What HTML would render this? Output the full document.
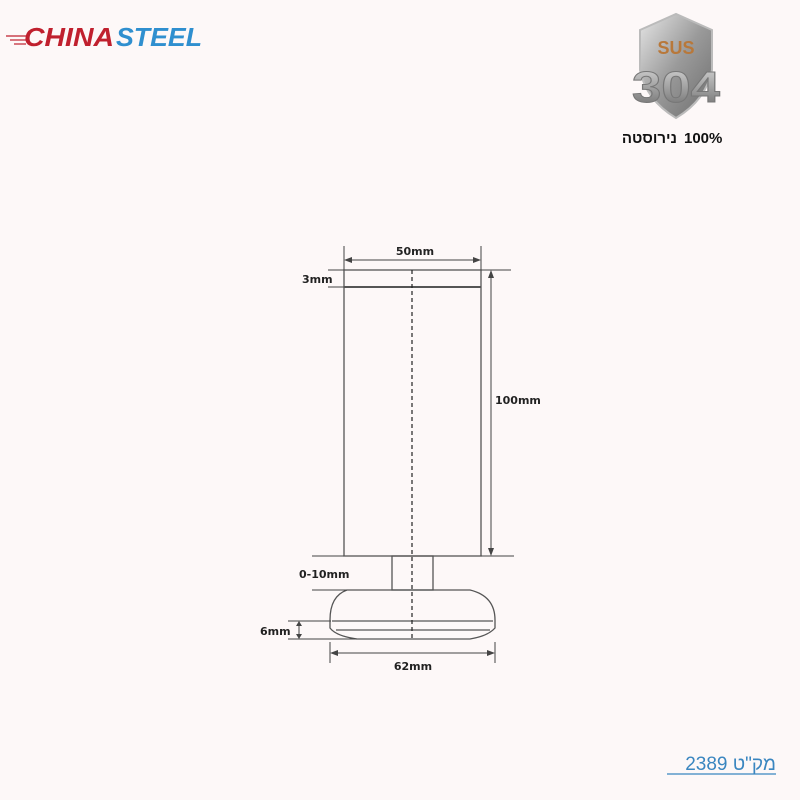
<!DOCTYPE html>
<html><head><meta charset="utf-8"><style>
html,body{margin:0;padding:0;background:#fdf8f8;}
svg{display:block}
</style></head><body>
<svg width="800" height="800" viewBox="0 0 800 800" xmlns="http://www.w3.org/2000/svg">
<defs>
<linearGradient id="sh" x1="0" y1="0" x2="1" y2="1"><stop offset="0" stop-color="#e6e6e6"/><stop offset="0.5" stop-color="#9a9a9a"/><stop offset="1" stop-color="#6d6d6d"/></linearGradient>
<linearGradient id="num" x1="0" y1="0" x2="0" y2="1"><stop offset="0" stop-color="#d8d8d8"/><stop offset="1" stop-color="#6a6a6a"/></linearGradient>
</defs>
<rect width="800" height="800" fill="#fdf8f8"/>
<g stroke="#c0202e" stroke-width="1.2">
<line x1="6" y1="36" x2="26" y2="36"/><line x1="10" y1="40" x2="26" y2="40"/><line x1="14" y1="44" x2="26" y2="44"/>
</g>
<text x="24" y="46" font-family="Liberation Sans, sans-serif" font-weight="bold" font-style="italic" font-size="26" fill="#c0202e" textLength="90" lengthAdjust="spacingAndGlyphs">CHINA</text>
<text x="116" y="46" font-family="Liberation Sans, sans-serif" font-weight="bold" font-style="italic" font-size="26" fill="#2f8fcf" textLength="86" lengthAdjust="spacingAndGlyphs">STEEL</text>
<path d="M640 30 L676 14 L712 30 L712 70 Q706 100 676 118 Q646 100 640 70 Z" fill="url(#sh)" stroke="#bbb" stroke-width="2"/>
<text x="676" y="54" text-anchor="middle" font-family="Liberation Sans, sans-serif" font-weight="bold" font-size="18" fill="#b8783a">SUS</text>
<text x="676" y="102" text-anchor="middle" font-family="Liberation Sans, sans-serif" font-weight="bold" font-size="44" fill="url(#num)" stroke="#777" stroke-width="1" textLength="88" lengthAdjust="spacingAndGlyphs">304</text>
<text x="677" y="143" text-anchor="end" font-family="Liberation Sans, DejaVu Sans, sans-serif" font-weight="bold" font-size="15" fill="#111">נירוסטה</text>
<text x="684" y="143" font-family="Liberation Sans, DejaVu Sans, sans-serif" font-weight="bold" font-size="15" fill="#111">100%</text>
<g stroke="#555" stroke-width="1.3" fill="none">
<rect x="344" y="270" width="137" height="286"/>
<line x1="344" y1="287" x2="481" y2="287" stroke-width="2"/>
<rect x="392" y="556" width="41" height="34"/>
<path d="M347 590 L470 590 Q495 596 495 620 L495 628 Q488 636 470 639 L357 639 Q336 636 330 628 L330 620 Q330 596 347 590 Z"/>
<line x1="332" y1="621" x2="493" y2="621"/>
<line x1="336" y1="630" x2="490" y2="630"/>
</g>
<line x1="412" y1="270" x2="412" y2="640" stroke="#222" stroke-width="1.2" stroke-dasharray="4,3"/>
<g stroke="#444" stroke-width="1" fill="none">
<line x1="344" y1="246" x2="344" y2="270"/><line x1="481" y1="246" x2="481" y2="270"/>
<line x1="346" y1="260" x2="479" y2="260"/>
<line x1="328" y1="270" x2="344" y2="270"/><line x1="328" y1="287" x2="344" y2="287"/>
<line x1="481" y1="270" x2="511" y2="270"/><line x1="481" y1="556" x2="514" y2="556"/>
<line x1="491" y1="274" x2="491" y2="552"/>
<line x1="312" y1="556" x2="344" y2="556"/><line x1="312" y1="590" x2="347" y2="590"/>
<line x1="288" y1="621" x2="331" y2="621"/><line x1="288" y1="639" x2="357" y2="639"/>
<line x1="299" y1="624" x2="299" y2="636"/>
<line x1="330" y1="642" x2="330" y2="663"/><line x1="495" y1="642" x2="495" y2="663"/>
<line x1="332" y1="653" x2="493" y2="653"/>
</g>
<g fill="#444">
<path d="M344 260 l8 -3 v6z"/><path d="M481 260 l-8 -3 v6z"/>
<path d="M491 270 l-3 8 h6z"/><path d="M491 556 l-3 -8 h6z"/>
<path d="M299 621 l-3 5 h6z"/><path d="M299 639 l-3 -5 h6z"/>
<path d="M330 653 l8 -3 v6z"/><path d="M495 653 l-8 -3 v6z"/>
</g>
<g font-family="DejaVu Sans, Liberation Sans, sans-serif" font-weight="bold" font-size="11" fill="#222">
<text x="415" y="255" text-anchor="middle">50mm</text>
<text x="302" y="283">3mm</text>
<text x="495" y="404">100mm</text>
<text x="299" y="578">0-10mm</text>
<text x="260" y="635">6mm</text>
<text x="413" y="670" text-anchor="middle">62mm</text>
</g>
<text x="776" y="770" text-anchor="end" font-family="Liberation Sans, DejaVu Sans, sans-serif" font-size="19" fill="#3a86c0" direction="ltr">מק"ט 2389</text>
<line x1="667" y1="774" x2="776" y2="774" stroke="#3a86c0" stroke-width="1.2"/>
</svg>
</body></html>
